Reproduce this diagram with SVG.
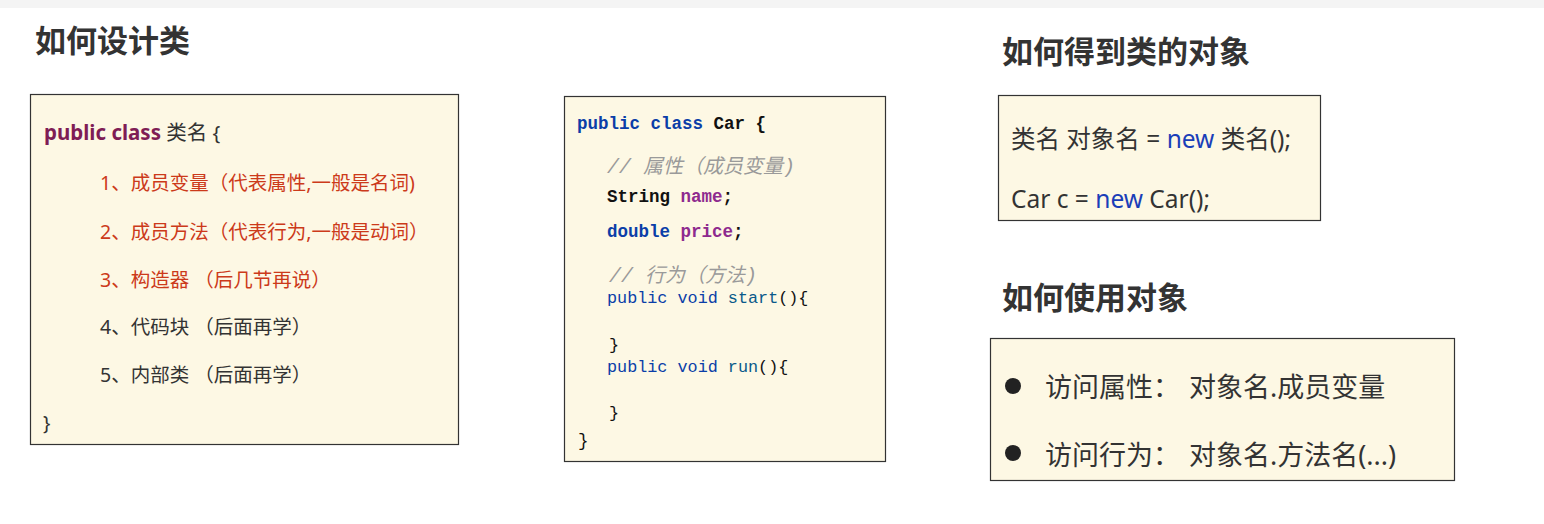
<svg xmlns="http://www.w3.org/2000/svg" width="1544" height="524" viewBox="0 0 1544 524">
<style>
.title{font-family:"Noto Sans CJK SC","Noto Sans",sans-serif;font-weight:bold;font-size:31px;fill:#333}
.box{fill:#fdf8e4;stroke:#333;stroke-width:1.2}
.t{font-family:"Noto Sans","Noto Sans CJK SC",sans-serif;font-size:19.500px;fill:#333}
.h{font-size:20.500px}
.red{fill:#cc3a1a}
.kw{fill:#7f1d55;font-weight:bold}
.code{font-family:"Liberation Mono","Noto Sans CJK SC",monospace;font-size:17.500px;fill:#111}
.c2{font-size:16.800px}
.b{font-weight:bold}
.blue{fill:#0b3ea8}
.purple{fill:#8e2a8e}
.fn{fill:#0a5a8a}
.cm{font-family:"Liberation Mono","Noto Sans CJK SC",monospace;font-size:20px;font-style:italic;fill:#9a9a9a}
.t2{font-family:"Noto Sans","Noto Sans CJK SC",sans-serif;font-size:24.500px;fill:#333}
.nw{fill:#1a3eb8}
.t3{font-family:"Noto Sans CJK SC","Noto Sans",sans-serif;font-size:27px;fill:#333}
.t3a{font-family:"Noto Sans","Noto Sans CJK SC",sans-serif;font-size:27px;fill:#333}
</style>
<rect x="0" y="0" width="1544" height="524" fill="#ffffff"/>
<rect x="0" y="0" width="1544" height="8" fill="#f4f4f4"/>

<g id="design-class">
<text class="title" x="35" y="52">如何设计类</text>
<rect class="box" x="30.500" y="94.500" width="428" height="350"/>
<text class="t h" x="44" y="140"><tspan class="kw">public class</tspan> 类名 {</text>
<text class="t red" x="100" y="190">1、成员变量（代表属性,一般是名词)</text>
<text class="t red" x="100" y="239">2、成员方法（代表行为,一般是动词）</text>
<text class="t red" x="100" y="287">3、构造器 （后几节再说）</text>
<text class="t" x="100" y="334">4、代码块 （后面再学）</text>
<text class="t" x="100" y="382">5、内部类 （后面再学）</text>
<text class="t" x="43" y="430">}</text>
</g>

<g id="car-class">
<rect class="box" x="564.500" y="96.500" width="321" height="365"/>
<text class="code b" x="577" y="129"><tspan class="blue">public class</tspan> Car {</text>
<text class="cm" x="607" y="173">// 属性（成员变量)</text>
<text class="code b" x="607" y="202">String <tspan class="purple">name</tspan>;</text>
<text class="code b" x="607" y="237"><tspan class="blue">double</tspan> <tspan class="purple">price</tspan>;</text>
<text class="cm" x="609" y="282">// 行为（方法)</text>
<text class="code c2" x="607" y="303"><tspan class="blue">public void</tspan> <tspan class="fn">start</tspan>(){</text>
<text class="code c2" x="609" y="350">}</text>
<text class="code c2" x="607" y="372"><tspan class="blue">public void</tspan> <tspan class="fn">run</tspan>(){</text>
<text class="code c2" x="609" y="418">}</text>
<text class="code" x="578" y="446">}</text>
</g>

<g id="get-object">
<text class="title" x="1002" y="63">如何得到类的对象</text>
<rect class="box" x="998.500" y="95.500" width="322" height="125"/>
<text class="t2" x="1011" y="148">类名 对象名 = <tspan class="nw">new</tspan> 类名();</text>
<text class="t2" x="1011" y="208">Car c = <tspan class="nw">new</tspan> Car();</text>
</g>

<g id="use-object">
<text class="title" x="1002" y="309">如何使用对象</text>
<rect class="box" x="990.500" y="338.500" width="464" height="142"/>
<circle cx="1013" cy="386" r="8" fill="#222"/>
<text class="t3" x="1045" y="397">访问属性：</text>
<text class="t3a" x="1189" y="397">对象名.成员变量</text>
<circle cx="1013" cy="453" r="8" fill="#222"/>
<text class="t3" x="1045" y="465">访问行为：</text>
<text class="t3a" x="1189" y="465">对象名.方法名(...)</text>
</g>
</svg>
